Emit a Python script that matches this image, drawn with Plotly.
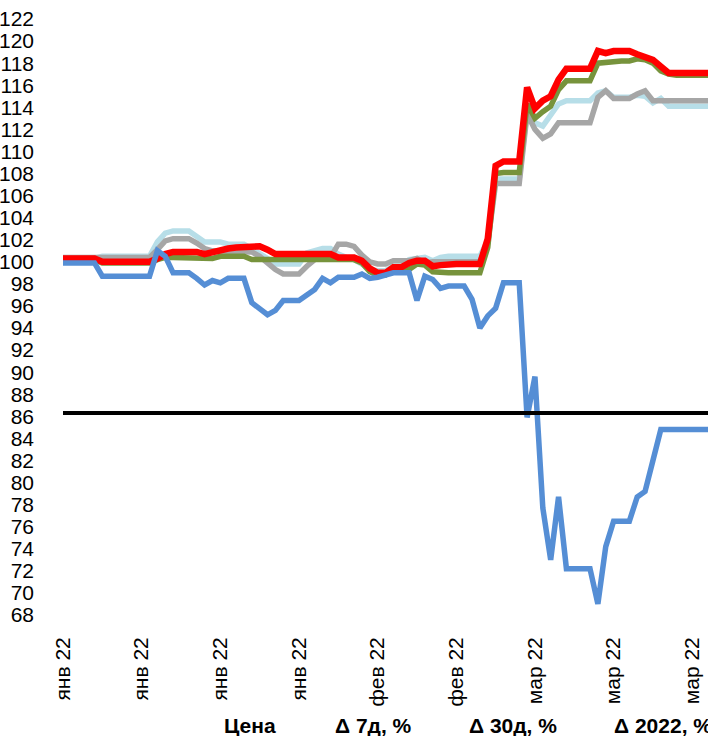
import plotly.graph_objects as go

# ---- data ----
tick_pos = [0, 10, 20, 30, 40, 50, 60, 70, 80]
tick_labels = ["янв 22", "янв 22", "янв 22", "янв 22", "фев 22", "фев 22", "мар 22", "мар 22", "мар 22"]

red = [100.3]*5 + [100.0]*7 + [100.3, 100.7] + [100.9]*4 + [100.7, 100.9, 101.0, 101.2, 101.3, 101.3, 101.4, 101.4, 101.1] \
    + [100.7]*8 + [100.4]*3 + [100.1, 99.4, 99.0, 99.0, 99.5, 99.5, 99.9, 100.1, 100.1, 99.6, 99.7] + [99.8]*5 \
    + [102.1, 108.7, 109.1, 109.1, 109.1, 115.8, 113.9, 114.6, 115.0, 116.5] + [117.5]*4 \
    + [119.1, 118.9, 119.1, 119.1, 119.1, 118.8, 118.5, 118.3, 117.7] + [117.1]*6

green = [100.2]*5 + [99.9]*7 + [100.2, 100.4] + [100.4]*4 + [100.3, 100.3] + [100.5]*4 + [100.2]*3 + [100.2]*4 \
    + [100.3]*4 + [100.2]*3 + [99.9, 99.1, 98.8, 98.8, 99.3, 99.3, 99.3, 99.8, 99.7, 99.1] + [99.0]*6 \
    + [101.3, 108.0, 108.1, 108.1, 108.1, 114.3, 113.0, 113.6, 114.1, 115.6] + [116.4]*4 \
    + [118.0, 118.1, 118.2, 118.2, 118.2, 118.4, 118.3, 118.0, 117.3, 117.0] + [116.9]*5

lightblue = [100.3]*5 + [100.5]*7 + [101.8, 102.6, 102.8, 102.8, 102.8, 102.3, 101.8, 101.8, 101.8, 101.6, 101.6, 101.6,
    101.2, 100.8, 100.3] + [99.8]*4 + [100.8, 101.0, 101.2, 101.2, 100.7, 100.4, 100.2, 99.8, 99.3, 99.2, 99.2, 99.6, 99.6,
    100.2, 100.3, 100.4, 100.1, 100.4] + [100.5]*5 \
    + [101.9, 107.5, 107.5, 107.5, 107.5, 113.7, 112.6, 112.3, 113.4, 114.3] + [114.6]*4 \
    + [115.3, 115.5, 114.9, 114.9, 114.9, 115.1, 115.0, 114.4, 114.8] + [114.1]*6

gray = [100.4]*12 + [101.1, 101.9, 102.1, 102.1, 102.1, 101.7, 101.2] + [101.0]*5 + [100.9, 100.5, 99.9, 99.3] \
    + [98.9]*3 + [99.6, 100.2, 100.4, 100.4, 101.6, 101.6, 101.4, 100.6, 100.0, 99.8, 99.8, 100.1, 100.1, 100.1, 100.3,
    99.9] + [100.0]*7 \
    + [101.7, 107.1, 107.1, 107.1, 107.1, 113.4, 112.0, 111.2, 111.6, 112.6] + [112.6]*4 \
    + [114.9, 115.5, 114.8, 114.8, 114.8, 115.2, 115.5] + [114.6]*8

blue = [99.9]*5 + [98.7]*7 + [101.0, 100.5, 99.0, 99.0, 99.0, 98.5, 97.9, 98.3, 98.1, 98.5, 98.5, 98.5,
    96.3, 95.8, 95.2, 95.6, 96.5, 96.5, 96.5, 97.0, 97.5, 98.5, 98.1, 98.6, 98.6, 98.6, 98.9, 98.5, 98.6, 98.8,
    99.0, 99.0, 99.0, 96.5, 98.7, 98.4, 97.6, 97.8, 97.8, 97.8, 96.6, 94.0, 95.1, 95.8, 98.1, 98.1, 98.1,
    85.9, 89.6, 77.7, 73.0, 78.7, 72.2, 72.2, 72.2, 72.2, 69.0, 74.2, 76.5, 76.5, 76.5, 78.7, 79.2, 82.0] + [84.8]*7

threshold = 86.3
headers = ["Цена", "Δ 7д, %", "Δ 30д, %", "Δ 2022, %"]
header_left_px = [222, 333, 467, 612]

x = list(range(len(red)))

FONT = "Liberation Sans, Arial, sans-serif"

fig = go.Figure()
series = [
    ("Серия 4", lightblue, "#B7DEE8", 5.5),
    ("Серия 5", gray, "#A6A6A6", 5.5),
    ("Серия 2", green, "#77933C", 5.5),
    ("Серия 1", red, "#FF0000", 6.5),
    ("Серия 3", blue, "#558ED5", 5.5),
]
for name, ys, col, w in series:
    fig.add_trace(go.Scatter(x=x[:len(ys)], y=ys, mode="lines", name=name,
                             line=dict(color=col, width=w), showlegend=False, hoverinfo="skip"))

fig.add_shape(type="line", xref="paper", x0=0, x1=1, yref="y", y0=threshold, y1=threshold,
              line=dict(color="black", width=4), layer="above")

L, T, B, W, H = 63, 19, 121, 708, 736
plot_w = W - L
plot_h = H - T - B
for txt, px in zip(headers, header_left_px):
    fig.add_annotation(text="<b>%s</b>" % txt, xref="paper", yref="paper",
                       x=(px - L) / plot_w, y=-(725 - (H - B)) / plot_h,
                       xanchor="left", yanchor="middle", showarrow=False,
                       font=dict(family=FONT, size=21, color="black"))

fig.update_layout(
    width=W, height=H,
    margin=dict(l=L, r=0, t=T, b=B, pad=0, autoexpand=False),
    plot_bgcolor="white", paper_bgcolor="white",
    font=dict(family=FONT, size=21, color="black"),
    xaxis=dict(range=[0, 82], tickmode="array", tickvals=tick_pos, ticktext=tick_labels,
               tickangle=-90, showgrid=False, zeroline=False, showline=False, ticks="",
               ticklabelstandoff=17, automargin=False, tickfont=dict(size=21)),
    yaxis=dict(range=[68, 122], tickmode="linear", tick0=68, dtick=2, showgrid=False,
               zeroline=False, showline=False, ticks="", ticklabelstandoff=28,
               automargin=False, tickfont=dict(size=21)),
)

fig.write_html("out.html", config={"displayModeBar": False},
               post_script="document.body.style.margin='0';document.body.style.overflow='hidden';")
